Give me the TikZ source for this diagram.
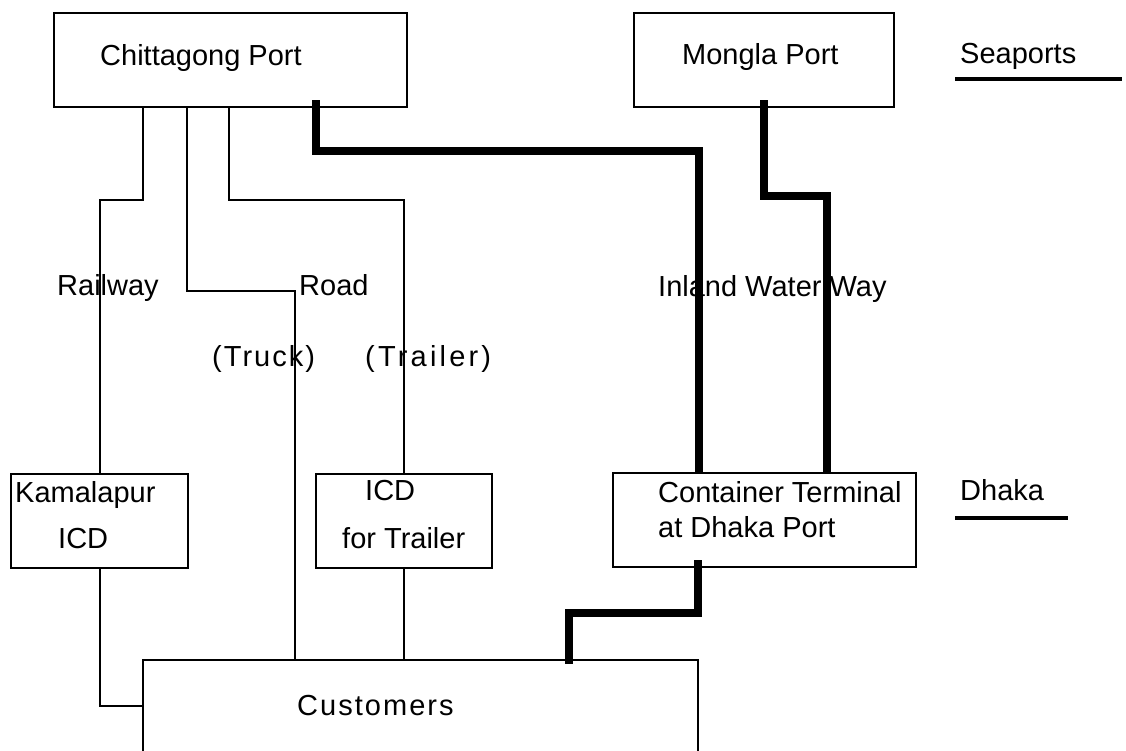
\documentclass[tikz,border=0pt]{standalone}
\usepackage{fontspec}
\setmainfont{Liberation Sans}
\newfontfamily\spacedfont[LetterSpace=7]{Liberation Sans}
\newfontfamily\widefont[LetterSpace=11]{Liberation Sans}
\begin{document}
\begin{tikzpicture}[x=1pt,y=-1pt,
  box/.style={draw, line width=2.2pt, inner sep=0pt},
  thinline/.style={line width=2pt},
  thickline/.style={line width=8.5pt},
  lbl/.style={inner sep=0pt, anchor=base west, font=\fontsize{29}{34}\selectfont},
  uline/.style={line width=3.5pt}]
\useasboundingbox (0,0) rectangle (1126,750);
\clip (0,0) rectangle (1126,750);
% boxes
\node[box, minimum width=353pt, minimum height=94pt] (chit) at (230.5,60) {};
\node[box, minimum width=260pt, minimum height=94pt] (mongla) at (764,60) {};
\node[box, minimum width=177pt, minimum height=94pt] (kamal) at (99.5,521) {};
\node[box, minimum width=176pt, minimum height=94pt] (icdt) at (404,521) {};
\node[box, minimum width=303pt, minimum height=94pt] (ctd) at (764.5,520) {};
\node[box, minimum width=555pt, minimum height=140pt] (cust) at (420.5,730) {};
% texts
\node[lbl] (tchit) at (100,65) {Chittagong Port};
\node[lbl] (tmong) at (682,64) {Mongla Port};
\node[lbl] (tsea) at (960,63) {Seaports};
\node[lbl] (trail) at (57,295) {Railway};
\node[lbl] (troad) at (299,295) {Road};
\node[lbl] (tiww) at (658,296) {Inland Water Way};
\node[lbl] (ttruck) at (212,366) {\spacedfont (Truck)};
\node[lbl] (ttrailer) at (365,366) {\widefont (Trailer)};
\node[lbl] (tkam1) at (15,502) {Kamalapur};
\node[lbl] (tkam2) at (58,548) {ICD};
\node[lbl] (ticd1) at (365,500) {ICD};
\node[lbl] (ticd2) at (342,548) {for Trailer};
\node[lbl] (tctd1) at (658,502) {Container Terminal};
\node[lbl] (tctd2) at (658,537) {at Dhaka Port};
\node[lbl] (tdhaka) at (960,500) {Dhaka};
\node[lbl] (tcust) at (297,715) {\spacedfont Customers};
% underlines
\coordinate (sea1) at (955,79);
\coordinate (sea2) at (1122,79);
\coordinate (dh1) at (955,518);
\coordinate (dh2) at (1068,518);
\draw[uline] (sea1) -- (sea2);
\draw[uline] (dh1) -- (dh2);
% thin connectors
\draw[thinline] ([xshift=90pt]chit.south west) -- ++(0,92) -| (kamal.north);
\draw[thinline] ([xshift=134pt]chit.south west) -- ++(0,183) -| ([xshift=153pt]cust.north west);
\draw[thinline] ([xshift=176pt]chit.south west) -- ++(0,92) -| (icdt.north);
\draw[thinline] (kamal.south) |- ([yshift=-47pt]cust.north west);
\draw[thinline] (icdt.south) -- (icdt.south |- cust.north);
% thick connectors
\draw[thickline] ([xshift=263pt,yshift=8pt]chit.south west) -- ++(0,51) -| ([xshift=87pt]ctd.north west);
\draw[thickline] ([yshift=8pt]mongla.south) -- ++(0,96) -| ([xshift=215pt]ctd.north west);
\draw[thickline] ([xshift=86pt,yshift=8pt]ctd.south west) -- ++(0,53) -| ([xshift=427pt,yshift=-5pt]cust.north west);
\end{tikzpicture}
\end{document}
